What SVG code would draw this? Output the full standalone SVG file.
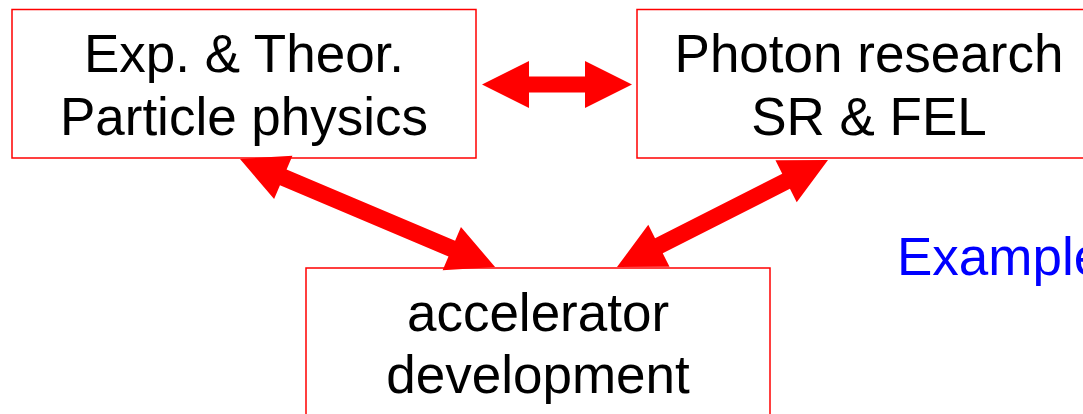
<svg xmlns="http://www.w3.org/2000/svg" width="1083" height="414" viewBox="0 0 1083 414">
<style>
.box{fill:#fff;stroke:#ff0000;stroke-width:1.5}
.t{font-family:"Liberation Sans",Arial,sans-serif;font-size:53px;fill:#000;text-anchor:middle}
.arr{fill:#ff0000;stroke:none}
</style>
<rect width="1083" height="414" fill="#fff"/>
<g id="particle">
<rect class="box" x="12" y="9.5" width="464" height="148.5"/>
<text class="t" x="244" y="72">Exp. &amp; Theor.</text>
<text class="t" x="244" y="135">Particle physics</text>
</g>
<g id="photon">
<rect class="box" x="637" y="9.5" width="470" height="148.5"/>
<text class="t" x="869" y="72">Photon research</text>
<text class="t" x="869" y="135">SR &amp; FEL</text>
</g>
<g id="accelerator">
<rect class="box" x="306" y="268" width="464" height="160"/>
<text class="t" x="538" y="331">accelerator</text>
<text class="t" x="538" y="393">development</text>
</g>
<g id="label">
<text x="897" y="275" style="font-family:'Liberation Sans',Arial,sans-serif;font-size:53px;fill:#0000ff">Example</text>
</g>
<g id="connectors">
<polygon class="arr" transform="translate(482,84.5)" points="0,0 47,-23.5 47,-8 103,-8 103,-23.5 150,0 103,23.5 103,8 47,8 47,23.5"/>
<polygon class="arr" transform="translate(240,159) rotate(22.95)" points="0,0 47,-23.5 47,-8.5 230,-8.5 230,-23.5 277,0 230,23.5 230,8.5 47,8.5 47,23.5"/>
<polygon class="arr" transform="translate(828,160) rotate(153.1)" points="0,0 47,-23.5 47,-8.5 189.6,-8.5 189.6,-23.5 236.6,0 189.6,23.5 189.6,8.5 47,8.5 47,23.5"/>
</g>
</svg>
